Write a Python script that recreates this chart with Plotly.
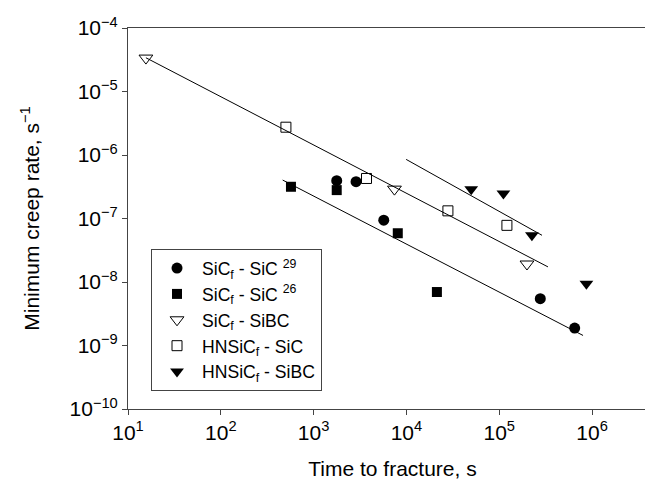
import plotly.graph_objects as go

# Data (time to fracture [s], minimum creep rate [1/s])
sic29_t = [1774, 2866, 5700, 2.77e5, 6.5e5]
sic29_r = [3.94e-7, 3.8e-7, 9.4e-8, 5.46e-9, 1.88e-9]

sic26_t = [570, 1774, 8070, 21300]
sic26_r = [3.16e-7, 2.8e-7, 5.86e-8, 6.95e-9]

sic_sibc_t = [15.6, 7430, 1.99e5]
sic_sibc_r = [3.36e-5, 2.9e-7, 1.92e-8]

hn_sic_t = [503, 3715, 28000, 1.21e5]
hn_sic_r = [2.74e-6, 4.27e-7, 1.32e-7, 7.8e-8]

hn_sibc_t = [49900, 1.11e5, 2.25e5, 8.7e5]
hn_sibc_r = [2.9e-7, 2.48e-7, 5.44e-8, 9.4e-9]

# Fit lines (end points)
fit1_t = [15.6, 3.35e5]
fit1_r = [3.4e-5, 1.73e-8]
fit2_t = [9930, 2.89e5]
fit2_r = [8.53e-7, 5.44e-8]
fit3_t = [464, 8.0e5]
fit3_r = [4.03e-7, 1.44e-9]

x_tick_exp = [1, 2, 3, 4, 5, 6]
y_tick_exp = [-4, -5, -6, -7, -8, -9, -10]

names = ["SiC<sub>f</sub> - SiC <sup>29</sup>",
         "SiC<sub>f</sub> - SiC <sup>26</sup>",
         "SiC<sub>f</sub> - SiBC",
         "HNSiC<sub>f</sub> - SiC",
         "HNSiC<sub>f</sub> - SiBC"]

fig = go.Figure()

for ft, fr in [(fit1_t, fit1_r), (fit2_t, fit2_r), (fit3_t, fit3_r)]:
    fig.add_trace(go.Scatter(x=ft, y=fr, mode="lines",
                             line=dict(color="black", width=1),
                             showlegend=False, hoverinfo="skip"))

fig.add_trace(go.Scatter(x=sic29_t, y=sic29_r, mode="markers", name=names[0], legendgroup="a",
                         marker=dict(symbol="circle", size=11, color="black")))
fig.add_trace(go.Scatter(x=sic26_t, y=sic26_r, mode="markers", name=names[1], legendgroup="b",
                         marker=dict(symbol="square", size=10, color="black")))
fig.add_trace(go.Scatter(x=sic_sibc_t, y=sic_sibc_r, mode="markers", name=names[2], legendgroup="c",
                         marker=dict(symbol="triangle-down-open", size=12, color="black",
                                     line=dict(width=1, color="black"))))
fig.add_trace(go.Scatter(x=hn_sic_t, y=hn_sic_r, mode="markers", name=names[3], legendgroup="d",
                         marker=dict(symbol="square-open", size=10, color="black",
                                     line=dict(width=1, color="black"))))
fig.add_trace(go.Scatter(x=hn_sibc_t, y=hn_sibc_r, mode="markers", name=names[4], legendgroup="e",
                         marker=dict(symbol="triangle-down", size=12, color="black")))

font = "Liberation Sans, Arial, sans-serif"

def tick_text(e):
    s = str(e).replace("-", "\u2212")
    return "10<sup>%s</sup>" % s

fig.update_layout(
    width=653, height=482,
    margin=dict(l=120, r=4, t=20, b=81),
    paper_bgcolor="white", plot_bgcolor="white",
    font=dict(family=font, size=18, color="black"),
    showlegend=True,
    legend=dict(x=0.0435, y=0.047, xanchor="left", yanchor="bottom",
                bordercolor="#444", borderwidth=1, bgcolor="white",
                font=dict(size=17.6), itemwidth=40, tracegroupgap=2,
                traceorder="normal"),
    xaxis=dict(type="log", range=[1, 6.7],
               tickvals=[10 ** e for e in x_tick_exp],
               ticktext=[tick_text(e) for e in x_tick_exp],
               ticks="outside", ticklen=5, tickcolor="#444",
               showline=True, linecolor="#444", linewidth=1, mirror=True,
               showgrid=False, zeroline=False,
               tickfont=dict(size=21),
               title=dict(text="Time to fracture, s", font=dict(size=21), standoff=18)),
    yaxis=dict(type="log", range=[-10, -4],
               tickvals=[10 ** e for e in y_tick_exp],
               ticktext=[tick_text(e) for e in y_tick_exp],
               ticks="outside", ticklen=5, tickcolor="#444",
               showline=True, linecolor="#444", linewidth=1, mirror=True,
               showgrid=False, zeroline=False,
               tickfont=dict(size=21),
               title=dict(text="Minimum creep rate, s<sup>\u22121</sup>", font=dict(size=21), standoff=24)),
)

fig.write_html("out.html")
